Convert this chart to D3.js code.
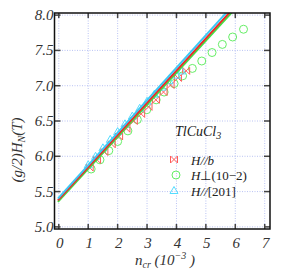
<!DOCTYPE html>
<html><head><meta charset="utf-8">
<script src="https://cdn.jsdelivr.net/npm/d3@7"></script>
<style>body{margin:0;background:#fff}svg{display:block}</style>
</head><body>
<script>
const xTicks = [0,1,2,3,4,5,6,7];
const yTicks = [5.0,5.5,6.0,6.5,7.0,7.5,8.0];
const yTickLabels = ["5.0","5.5","6.0","6.5","7.0","7.5","8.0"];

const redX = [1.05,1.3,1.55,1.8,2.05,2.3,2.55,2.8,3.05,3.3,3.56,3.8,4.05,4.33];
const redY = [5.84,5.95,6.06,6.17,6.28,6.39,6.50,6.60,6.70,6.80,6.91,7.01,7.11,7.21];
const greenX = [1.1,1.4,1.7,2.0,2.35,2.67,2.99,3.31,3.58,3.92,4.21,4.54,4.86,5.21,5.56,5.91,6.28];
const greenY = [5.82,5.95,6.08,6.21,6.36,6.52,6.66,6.80,6.91,7.03,7.14,7.245,7.35,7.47,7.585,7.69,7.80];
const cyanX = [1.0,1.25,1.5,1.75,2.0,2.25,2.5,2.75,3.0,3.25,3.5,3.75,4.0,4.18];
const cyanY = [5.88,6.0,6.12,6.24,6.35,6.46,6.57,6.68,6.78,6.88,6.98,7.07,7.15,7.21];

// fit lines: intercept, slope
const fitNames = ["green","red","cyan"];
const fitIntercepts = [5.368,5.39,5.415];
const fitSlopes = [0.454,0.456,0.46];

const legendLabels = ["H//b","H\u22a5(10\u22122)","H//[201]"];

const W=298,H=273;
const L=54.5,R=270,T=13,B=229;
const x=d3.scaleLinear().domain([-0.146,7.18]).range([L,R]);
const y=d3.scaleLinear().domain([4.97,8.03]).range([B,T]);

const svg=d3.select("body").append("svg").attr("width",W).attr("height",H);
const font="'Liberation Serif','Times New Roman',serif";

// grid
const grid=svg.append("g").attr("stroke","#a8b4f0").attr("stroke-width",0.8).attr("stroke-dasharray","1,1.5");
xTicks.forEach(v=>grid.append("line").attr("x1",x(v)).attr("x2",x(v)).attr("y1",T).attr("y2",B));
yTicks.forEach(v=>grid.append("line").attr("x1",L).attr("x2",R).attr("y1",y(v)).attr("y2",y(v)));

svg.append("defs").append("clipPath").attr("id","clip").append("rect")
  .attr("x",L).attr("y",T).attr("width",R-L).attr("height",B-T);

const colors={red:"#ee2a2a",green:"#44e044",cyan:"#3cc8f4"};
const mcolors={red:"#ff5a5a",green:"#66ee66",cyan:"#55ddff"};

// markers
const g=svg.append("g").attr("clip-path","url(#clip)");
function bowtie(cx,cy,s){return `M${cx-s},${cy-s}L${cx+s},${cy+s}L${cx+s},${cy-s}L${cx-s},${cy+s}Z`;}
function tri(cx,cy,s){return `M${cx},${cy-s}L${cx+s},${cy+s*0.75}L${cx-s},${cy+s*0.75}Z`;}
greenX.forEach((v,i)=>g.append("circle").attr("cx",x(v)).attr("cy",y(greenY[i])).attr("r",4)
  .attr("fill","none").attr("stroke",mcolors.green).attr("stroke-width",1));
redX.forEach((v,i)=>g.append("path").attr("d",bowtie(x(v),y(redY[i]),3.5))
  .attr("fill","none").attr("stroke",mcolors.red).attr("stroke-width",1));
cyanX.forEach((v,i)=>g.append("path").attr("d",tri(x(v),y(cyanY[i]),4))
  .attr("fill","none").attr("stroke",mcolors.cyan).attr("stroke-width",1));

// lines
fitNames.forEach((n,i)=>{
  const x0=-0.03,x1=7;
  g.append("line").attr("x1",x(x0)).attr("y1",y(fitIntercepts[i]+fitSlopes[i]*x0))
   .attr("x2",x(x1)).attr("y2",y(fitIntercepts[i]+fitSlopes[i]*x1))
   .attr("stroke",colors[n]).attr("stroke-width",2);
});

// ticks
const tk=svg.append("g").attr("stroke","#444").attr("stroke-width",1.5);
xTicks.forEach(v=>{
  tk.append("line").attr("x1",x(v)).attr("x2",x(v)).attr("y1",B).attr("y2",B-5);
  tk.append("line").attr("x1",x(v)).attr("x2",x(v)).attr("y1",T).attr("y2",T+5);
});
yTicks.forEach(v=>{
  tk.append("line").attr("x1",L).attr("x2",L+6).attr("y1",y(v)).attr("y2",y(v));
  tk.append("line").attr("x1",R).attr("x2",R-6).attr("y1",y(v)).attr("y2",y(v));
});

// frame
svg.append("rect").attr("x",L).attr("y",T).attr("width",R-L).attr("height",B-T)
  .attr("fill","none").attr("stroke","#111").attr("stroke-width",1.5);

// tick labels
const tl=svg.append("g").attr("font-family",font).attr("font-style","italic").attr("font-size",15).attr("fill","#333");
xTicks.forEach(v=>tl.append("text").attr("x",x(v)+1).attr("y",248).attr("text-anchor","middle").text(v));
yTicks.forEach((v,i)=>tl.append("text").attr("x",L-1).attr("y",y(v)+5).attr("text-anchor","end").text(yTickLabels[i]));

// axis titles
const xt=svg.append("text").attr("x",165).attr("y",265).attr("text-anchor","middle")
  .attr("font-family",font).attr("font-style","italic").attr("font-size",15).attr("fill","#333");
xt.append("tspan").text("n");
xt.append("tspan").attr("font-size",10).attr("dy",3).text("cr");
xt.append("tspan").attr("dy",-3).text(" (10");
xt.append("tspan").attr("font-size",10).attr("dy",-6).text("\u22123");
xt.append("tspan").attr("dy",6).text(" )");

const yt=svg.append("text").attr("transform","translate(22,150) rotate(-90)").attr("text-anchor","middle")
  .attr("font-family",font).attr("font-style","italic").attr("font-size",15).attr("fill","#333");
yt.append("tspan").text("(g/2)H");
yt.append("tspan").attr("font-size",10).attr("dy",3).text("N");
yt.append("tspan").attr("dy",-3).text("(T)");

// legend
const lg=svg.append("g").attr("font-family",font).attr("font-size",13).attr("fill","#222");
const tt=lg.append("text").attr("x",175).attr("y",136).attr("font-style","italic").attr("font-size",14);
tt.append("tspan").text("TlCuCl");
tt.append("tspan").attr("font-size",10).attr("dy",3).text("3");
const ly=[159.5,175,190.5];
lg.append("path").attr("d",bowtie(174,ly[0],3.5)).attr("fill","none").attr("stroke",mcolors.red).attr("stroke-width",1);
lg.append("circle").attr("cx",176).attr("cy",ly[1]).attr("r",4).attr("fill","none").attr("stroke",mcolors.green).attr("stroke-width",1);
lg.append("path").attr("d",tri(174,ly[2],4)).attr("fill","none").attr("stroke",mcolors.cyan).attr("stroke-width",1);
legendLabels.forEach((s,i)=>{
  const t=lg.append("text").attr("x",191).attr("y",ly[i]+5);
  if(i===0){t.append("tspan").attr("font-style","italic").text("H//b");}
  else if(i===1){t.append("tspan").attr("font-style","italic").text("H");t.append("tspan").text("\u22a5(10\u22122)");}
  else {t.append("tspan").attr("font-style","italic").text("H//");t.append("tspan").text("[201]");}
});
</script>
</body></html>
